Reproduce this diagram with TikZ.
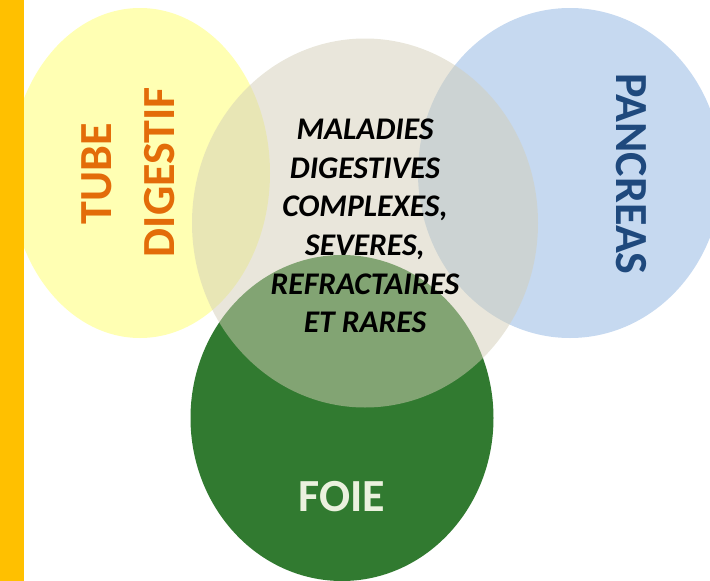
\documentclass[tikz,border=0pt]{standalone}
\usepackage{fontspec}
\setmainfont{Carlito}
\usetikzlibrary{shapes.geometric}
\definecolor{yel}{RGB}{255,255,179}
\definecolor{blu}{RGB}{198,217,240}
\definecolor{grn}{RGB}{49,122,48}
\definecolor{bei}{RGB}{211,206,183}
\definecolor{orgtxt}{RGB}{227,108,9}
\definecolor{blutxt}{RGB}{31,73,125}
\definecolor{foietxt}{RGB}{235,241,222}
\definecolor{barcol}{RGB}{255,192,0}
\tikzset{
  blob/.style={ellipse, inner sep=0pt, draw=none},
  biglabel/.style={font=\fontsize{46}{50}\selectfont\bfseries, inner sep=0pt},
  midlabel/.style={font=\fontsize{31.5}{38.6}\selectfont\bfseries\itshape, align=center, inner sep=0pt}
}
\begin{document}
\begin{tikzpicture}[x=1pt,y=-1pt]
\useasboundingbox (0,0) rectangle (710,581);
\begin{scope}
\clip (0,0) rectangle (710,581);
\node[blob, fill=yel, minimum width=260pt, minimum height=330pt] (tube) at (140,173) {};
\node[blob, fill=blu, minimum width=304pt, minimum height=330pt] (panc) at (570,173) {};
\node[blob, fill=grn, minimum width=303pt, minimum height=326pt] (foie) at (342,418) {};
\node[blob, fill=bei, fill opacity=0.5, minimum width=346pt, minimum height=369pt] (mal) at (365,223) {};
\end{scope}
\node[biglabel, text=orgtxt, rotate=90] (t1) at (97,174) {TUBE};
\node[biglabel, text=orgtxt, rotate=90] (t2) at (160,172) {DIGESTIF};
\node[biglabel, text=blutxt, rotate=-90] (t3) at (631,174) {PANCREAS};
\node[biglabel, text=foietxt] (t4) at (342,497) {FOIE};
\node[midlabel] (t5) at (365,226) {MALADIES\\DIGESTIVES\\COMPLEXES,\\SEVERES,\\REFRACTAIRES\\ET RARES};
\fill[barcol] (0,0) rectangle (24,581);
\end{tikzpicture}
\end{document}
